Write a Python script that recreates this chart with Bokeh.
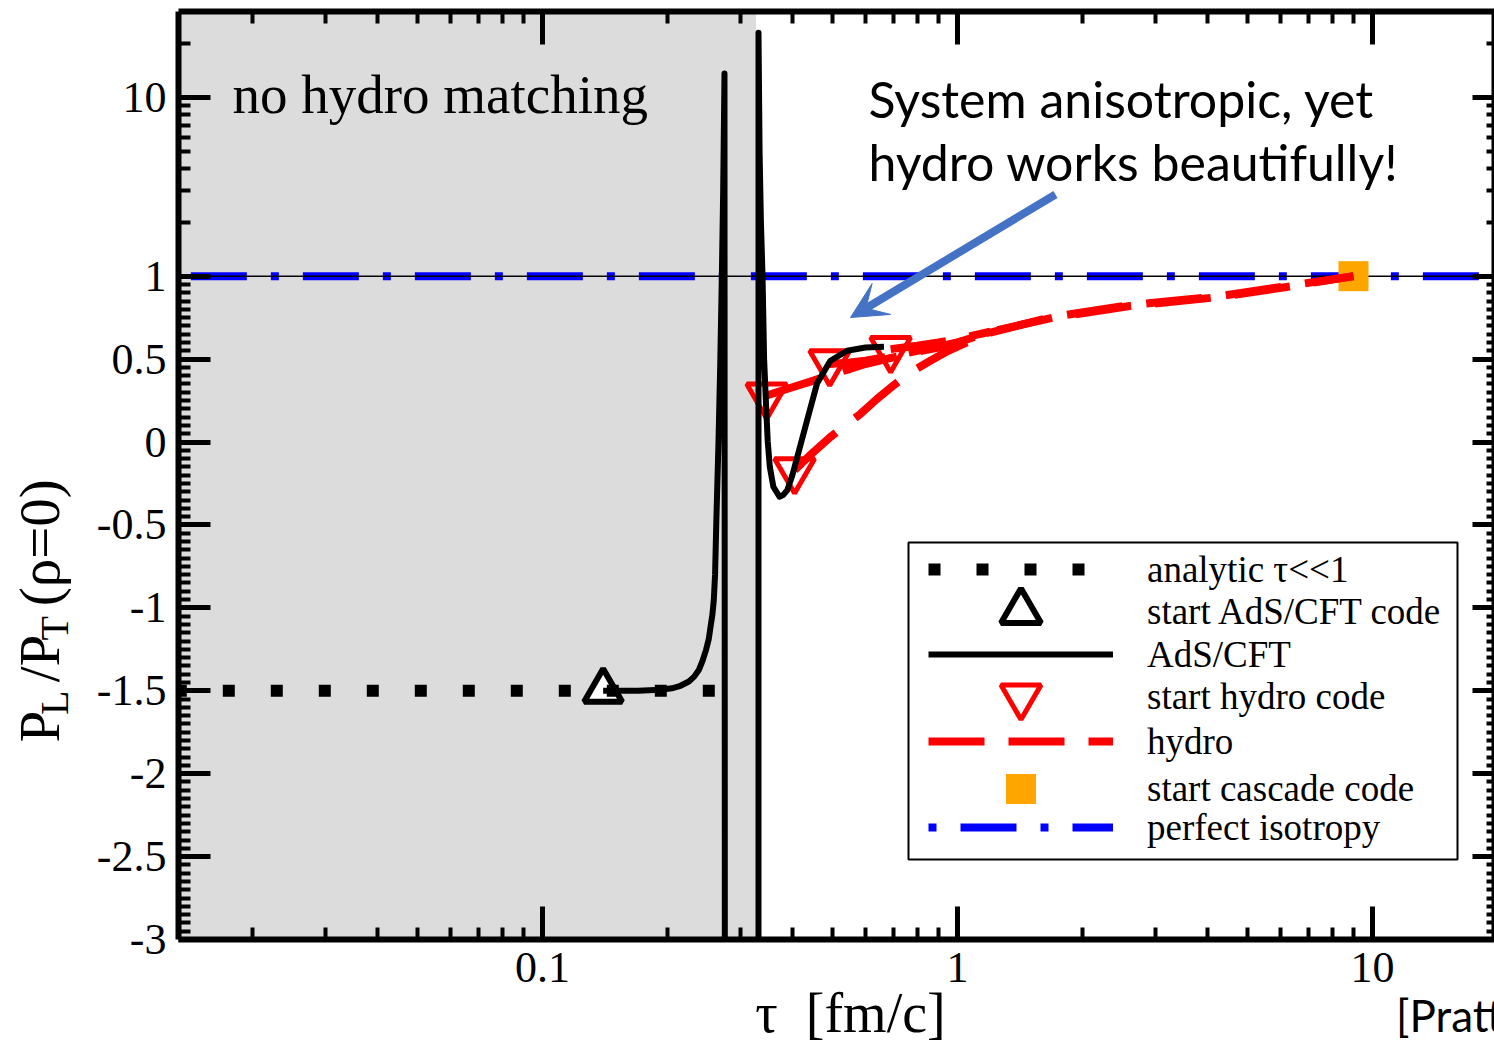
import numpy as np
from bokeh.plotting import figure
from bokeh.models import (Range1d, FixedTicker, LinearAxis, LogAxis, CustomJSTickFormatter,
                          CustomLabelingPolicy, BoxAnnotation, Label, Arrow, VeeHead, Legend,
                          LegendItem, Title)
from bokeh.embed import file_html
from bokeh.resources import INLINE

# ---------------- data ----------------
analytic_tau = [0.013, 0.265]
analytic_ratio = [-1.5, -1.5]

ads_start_tau = [0.14]
ads_start_ratio = [-1.5]

# AdS/CFT, first branch: plateau, rise to the pole, drop off-scale
ads_tau_1 = [0.14, 0.17, 0.1924, 0.205, 0.215, 0.2253, 0.232, 0.2383, 0.243, 0.2478, 0.2515,
             0.2541, 0.2567, 0.2587, 0.2605, 0.2624, 0.2655, 0.268, 0.2705, 0.2725, 0.2745, 0.2757]
ads_ratio_1 = [-1.5, -1.5, -1.494, -1.485, -1.47, -1.444, -1.415, -1.373, -1.32, -1.253, -1.19,
               -1.113, -1.04, -0.952, -0.8, -0.47, 0.0, 0.45, 1.0, 3.0, 13.6, -10.0]
# AdS/CFT, second branch: from off-scale below, through the pole, dip, plateau
ads_tau_2 = [0.3315, 0.3315, 0.3335, 0.336, 0.339, 0.342, 0.346, 0.349, 0.353, 0.36,
             0.3725, 0.38, 0.389, 0.40, 0.411, 0.434, 0.459, 0.494, 0.542, 0.60, 0.665]
ads_ratio_2 = [-10.0, 23.0, 5.0, 2.0, 1.0, 0.5, 0.2, 0.0, -0.15, -0.27,
               -0.33, -0.32, -0.29, -0.2, -0.09, 0.13, 0.355, 0.49, 0.55, 0.57, 0.575]

hydro_start_tau = [0.347, 0.405, 0.492, 0.69]
hydro_start_ratio = [0.28, -0.17, 0.48, 0.56]

hydro_tau = [
    [0.347, 0.4, 0.45, 0.5, 0.55, 0.6, 0.7, 0.8, 0.9, 1.0, 1.2, 1.7, 2.6, 4.3, 6.4, 9.0],
    [0.405, 0.45, 0.494, 0.55, 0.584, 0.64, 0.7, 0.77, 0.86, 0.95, 1.05, 1.2, 1.7, 2.6, 4.3, 6.4, 9.0],
    [0.492, 0.55, 0.6, 0.7, 0.8, 0.9, 1.0, 1.2],
    [0.69, 0.8, 0.9, 1.0, 1.1, 1.2],
]
hydro_ratio = [
    [0.28, 0.33, 0.37, 0.41, 0.44, 0.47, 0.51, 0.545, 0.57, 0.6, 0.665, 0.75, 0.82, 0.875, 0.94, 1.0],
    [-0.17, -0.06, 0.03, 0.12, 0.17, 0.26, 0.34, 0.42, 0.49, 0.55, 0.6, 0.66, 0.755, 0.825, 0.88, 0.945, 1.0],
    [0.47, 0.48, 0.49, 0.52, 0.55, 0.575, 0.6, 0.665],
    [0.56, 0.58, 0.6, 0.62, 0.645, 0.665],
]

cascade_tau = [9.0]
cascade_ratio = [1.0]

iso_tau = [0.0119, 20.0]
iso_ratio = [1.0, 1.0]

no_hydro_edge_tau = 0.327   # right edge of the grey "no hydro matching" band

x_tick_values = [0.1, 1, 10]
y_tick_values = [-3, -2.5, -2, -1.5, -1, -0.5, 0, 0.5, 1, 10]

legend_labels = ["analytic \u03c4<<1", "start AdS/CFT code", "AdS/CFT", "start hydro code",
                 "hydro", "start cascade code", "perfect isotropy"]

# ---------------- axis scale: linear up to 1, logarithmic above ----------------
K = 179.0 / 166.0


def to_axis(v):
    v = np.asarray(v, dtype=float)
    return np.where(v <= 1.0, v, 1.0 + K * np.log10(np.maximum(v, 1.0)))


x_minor = [m * 10.0 ** e for e in (-2, -1, 0) for m in range(2, 10)]
y_minor_lin = [round(-3 + 0.05 * i, 2) for i in range(81) if i % 10 != 0]
y_minor_log = [2, 3, 4, 5, 6, 7, 8, 9, 20]
y_minor = list(y_minor_lin) + [float(v) for v in to_axis(y_minor_log)]
y_major = [float(v) for v in to_axis(y_tick_values)]

SERIF = "Liberation Serif"
SANS = "Lato"
NB = "\u00a0"

p = figure(width=1494, height=1046, x_axis_type="log",
           x_range=Range1d(0.01327, 19.68), y_range=Range1d(-3.0, 2.596),
           output_backend="svg", toolbar_location=None,
           min_border_left=178, min_border_right=0, min_border_top=11, min_border_bottom=106)
p.grid.visible = False
p.outline_line_color = None
p.background_fill_color = "white"
p.border_fill_color = "white"

xt = FixedTicker(ticks=x_tick_values, minor_ticks=x_minor)
yt = FixedTicker(ticks=y_major, minor_ticks=y_minor)
xfmt = CustomJSTickFormatter(code="return String(tick);")
yfmt = CustomJSTickFormatter(args=dict(k=K), code="""
if (tick <= 1.000001) { return String(Math.round(tick * 100) / 100); }
return String(Math.round(Math.pow(10, (tick - 1) / k)));
""")
hide_labels = CustomLabelingPolicy(code="for (const i of indices) { indices.unset(i) }\nreturn indices")


def style_axis(ax, labels, tick_in, minor_in):
    ax.axis_line_width = 6
    ax.axis_line_color = "black"
    ax.major_tick_in = tick_in
    ax.major_tick_out = 0
    ax.minor_tick_in = minor_in
    ax.minor_tick_out = 0
    ax.major_tick_line_width = 5
    ax.minor_tick_line_width = 4
    ax.major_tick_line_color = "black"
    ax.minor_tick_line_color = "black"
    if labels:
        ax.major_label_text_font = SERIF
        ax.major_label_text_font_size = "44px"
        ax.major_label_text_color = "black"
    else:
        ax.major_label_policy = hide_labels
        ax.major_label_text_font_size = "0px"
        ax.major_label_standoff = 0


def label_only_axis(cls):
    ax = cls(ticker=FixedTicker(ticks=[]), axis_line_color=None,
             major_tick_line_color=None, minor_tick_line_color=None,
             major_tick_out=0, minor_tick_out=0, major_label_standoff=0)
    return ax


xa = p.xaxis[0]
xa.ticker = xt
xa.formatter = xfmt
style_axis(xa, True, 33, 12)
xa.major_label_standoff = 13
xa.axis_label = NB + NB + "\u03c4" + NB + NB + "[fm/c]"
xa.axis_label_text_font = SERIF
xa.axis_label_text_font_size = "56px"
xa.axis_label_text_font_style = "normal"
xa.axis_label_text_color = "black"
xa.axis_label_standoff = -3

ya = p.yaxis[0]
ya.ticker = yt
ya.formatter = yfmt
style_axis(ya, True, 32, 12)
ya.major_label_standoff = 12
# subscripts of the y label (inner label)
ya.axis_label = "L" + NB * 5 + "T" + NB * 38
ya.axis_label_text_font = SERIF
ya.axis_label_text_font_size = "40px"
ya.axis_label_text_font_style = "normal"
ya.axis_label_text_color = "black"
ya.axis_label_standoff = 17

# main part of the y label (outer label, on an axis without ticks)
ylab_axis = label_only_axis(LinearAxis)
ylab_axis.axis_label = "P" + NB * 2 + "/P" + NB * 2 + "(\u03c1=0)" + NB * 19
ylab_axis.axis_label_text_font = SERIF
ylab_axis.axis_label_text_font_size = "57px"
ylab_axis.axis_label_text_font_style = "normal"
ylab_axis.axis_label_text_color = "black"
ylab_axis.axis_label_standoff = -42
p.add_layout(ylab_axis, "left")

top_axis = LogAxis(ticker=xt, formatter=xfmt)
style_axis(top_axis, False, 33, 12)
p.add_layout(top_axis, "above")

right_axis = LinearAxis(ticker=yt, formatter=yfmt)
style_axis(right_axis, False, 22, 8)
p.add_layout(right_axis, "right")

# citation under the right end of the x axis
if "axis_label_align" in LogAxis.properties():
    cite_axis = label_only_axis(LogAxis)
    cite_axis.axis_label = "[Pratt" + NB * 8
    cite_axis.axis_label_align = "end"
    cite_axis.axis_label_text_font = SANS
    cite_axis.axis_label_text_font_size = "44px"
    cite_axis.axis_label_text_font_style = "normal"
    cite_axis.axis_label_text_color = "black"
    cite_axis.axis_label_standoff = -58
    p.add_layout(cite_axis, "below")
else:
    p.add_layout(Title(text="[Pratt", align="right", offset=0, standoff=-50,
                       text_font=SANS, text_font_size="44px", text_font_style="normal",
                       text_color="black", vertical_align="bottom"), "below")

# grey band
p.add_layout(BoxAnnotation(right=no_hydro_edge_tau, fill_color="#dcdcdc", fill_alpha=1.0,
                           line_alpha=0, level="underlay"))

# perfect isotropy
r_iso = p.line(iso_tau, to_axis(iso_ratio), line_color="#0000ff", line_width=8,
               line_dash="8 24 56 24")
p.line(iso_tau, to_axis(iso_ratio), line_color="black", line_width=1.5)

# cascade start
r_cascade = p.scatter(cascade_tau, to_axis(cascade_ratio), marker="square", size=30,
                      fill_color="#ffa500", line_alpha=0)

# hydro
r_hydro = p.multi_line(hydro_tau, [to_axis(r) for r in hydro_ratio], line_color="#ff0000",
                       line_width=8, line_dash="56 24")
r_hydro_start = p.scatter(hydro_start_tau, to_axis(hydro_start_ratio), marker="inverted_triangle",
                          size=40, line_color="#ff0000", line_width=5, fill_alpha=0)

# AdS/CFT start, analytic, AdS/CFT
r_ads_start = p.scatter(ads_start_tau, to_axis(ads_start_ratio), marker="triangle", size=38,
                        line_color="black", line_width=6, fill_color="white")
r_analytic = p.line(analytic_tau, to_axis(analytic_ratio), line_color="black", line_width=12,
                    line_dash="12 36")
r_ads = p.multi_line([ads_tau_1, ads_tau_2], [to_axis(ads_ratio_1), to_axis(ads_ratio_2)],
                     line_color="black", line_width=6, line_join="round")

FL, FB = 178, 940  # frame left / bottom in canvas pixels (for screen-unit annotations)
TXT_SHIFT = 20

p.add_layout(Label(x=232 - FL, y=FB - 115 + TXT_SHIFT, x_units="screen", y_units="screen",
                   text="no hydro matching", text_font=SERIF, text_font_size="55px",
                   text_color="black", text_align="left", text_baseline="alphabetic"))

p.add_layout(Label(x=868 - FL, y=FB - 119 + TXT_SHIFT, x_units="screen", y_units="screen",
                   text="System anisotropic, yet", text_font=SANS, text_font_size="50px",
                   text_color="black", text_align="left", text_baseline="alphabetic"))
p.add_layout(Label(x=868 - FL, y=FB - 182 + TXT_SHIFT, x_units="screen", y_units="screen",
                   text="hydro works beautifully!", text_font=SANS, text_font_size="50px",
                   text_color="black", text_align="left", text_baseline="alphabetic"))

p.add_layout(Arrow(end=VeeHead(size=36, fill_color="#4472c4", line_color="#4472c4"),
                   x_start=1055 - FL, y_start=FB - 195, x_end=850 - FL, y_end=FB - 318,
                   start_units="screen", end_units="screen",
                   line_color="#4472c4", line_width=8))

# legend frame
p.add_layout(BoxAnnotation(left=908 - FL, right=1457 - FL, top=FB - 543, bottom=FB - 860,
                           left_units="screen", right_units="screen",
                           top_units="screen", bottom_units="screen",
                           fill_color="white", fill_alpha=1.0, line_color="black",
                           line_width=2, line_alpha=1.0))

# one legend per row so that the marker samples keep their size
legend_renderers = [r_analytic, r_ads_start, r_ads, r_hydro_start, r_hydro, r_cascade, r_iso]
row_centers = [570, 612, 655, 697, 742, 789, 828]
row_glyph_h = [100, 100, 100, 100, 100, 75, 100]
for lab, r, c, gh in zip(legend_labels, legend_renderers, row_centers, row_glyph_h):
    p.add_layout(Legend(items=[LegendItem(label=lab, renderers=[r])],
                        location=(928 - FL, FB - (c + gh / 2)), orientation="vertical",
                        glyph_width=185, glyph_height=gh, label_height=40,
                        padding=0, margin=0, label_standoff=34,
                        label_text_font=SERIF, label_text_font_size="37px",
                        label_text_color="black",
                        background_fill_alpha=0, border_line_alpha=0), "center")

open("out.html", "w").write(file_html(p, INLINE))
